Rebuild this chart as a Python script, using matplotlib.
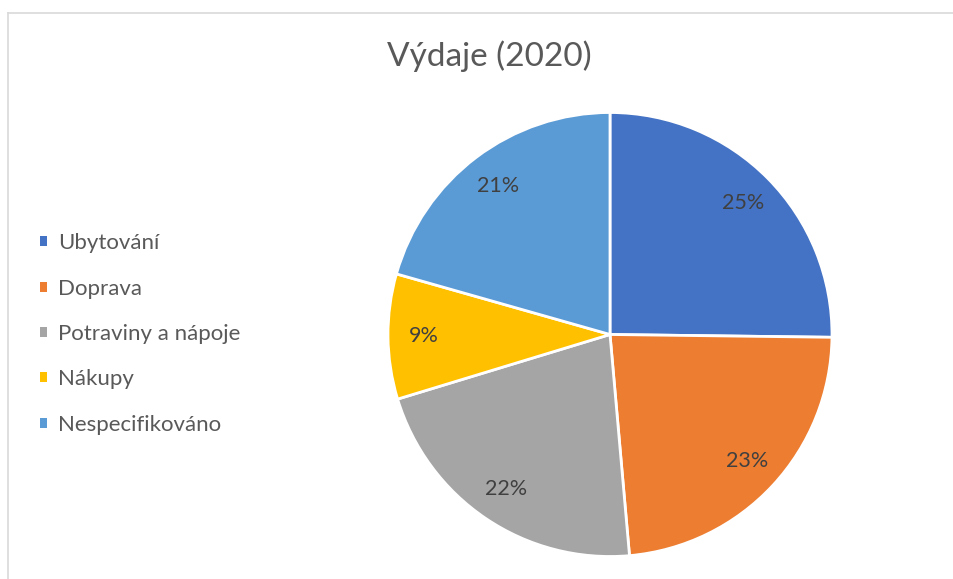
import matplotlib.pyplot as plt
from matplotlib.lines import Line2D
from matplotlib.patches import Patch

plt.rcParams['font.family'] = ['Lato', 'DejaVu Sans']

categories = ["Ubytování", "Doprava", "Potraviny a nápoje", "Nákupy", "Nespecifikováno"]
shares = [25.2, 23.4, 21.7, 9.1, 20.6]
colors = ["#4472c4", "#ed7d31", "#a5a5a5", "#ffc000", "#5b9bd5"]
title = "Výdaje (2020)"

W, H = 954, 579
fig = plt.figure(figsize=(W / 100, H / 100), dpi=100)

# thin grey frame like the Excel chart area (only top and left visible)
fig.add_artist(Line2D([8.5 / W, 8.5 / W], [0, 1 - 12.5 / H], color="#d9d9d9", lw=1.2))
fig.add_artist(Line2D([8.5 / W, 1], [1 - 12.5 / H, 1 - 12.5 / H], color="#d9d9d9", lw=1.2))

# pie axes: centre ~ (610, 334) px, radius ~222 px
cx, cy, r = 610, 334.5, 222
ax = fig.add_axes([(cx - r) / W, (H - cy - r) / H, 2 * r / W, 2 * r / H])
wedges, texts, autotexts = ax.pie(
    shares, colors=colors, startangle=90, counterclock=False,
    autopct="%.0f%%", pctdistance=0.84,
    wedgeprops=dict(edgecolor="white", linewidth=2),
    textprops=dict(color="#404040", fontsize=15.5),
)
ax.set_xlim(-1, 1)
ax.set_ylim(-1, 1)
ax.set_aspect("equal")
ax.axis("off")

fig.text(489 / W, 1 - 56 / H, title, ha="center", va="center", fontsize=24, color="#595959")

handles = [Patch(facecolor=c, edgecolor="none") for c in colors]
fig.legend(handles, categories, loc="center left", bbox_to_anchor=(20 / W, 1 - 334 / H),
           frameon=False, fontsize=16, labelcolor="#595959",
           handlelength=0.32, handleheight=0.32, handletextpad=0.5, labelspacing=1.14)

fig.savefig("out.png", dpi=100, facecolor="white")
